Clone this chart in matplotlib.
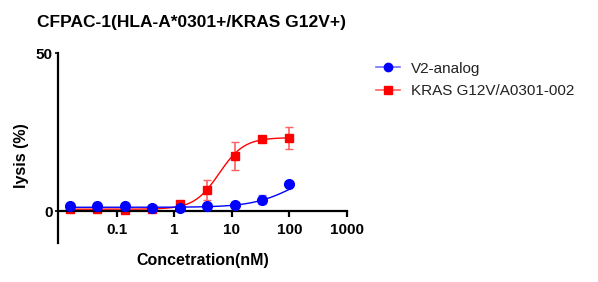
import numpy as np
import matplotlib.pyplot as plt

plt.rcParams['font.family'] = ['Liberation Sans', 'DejaVu Sans']

# 3-fold dilution series (nM)
conc = [0.01524, 0.04572, 0.1372, 0.4115, 1.235, 3.704, 11.11, 33.33, 100.0]

kras = [0.9, 0.7, 0.5, 0.7, 2.4, 6.7, 17.5, 23.0, 23.1]
kras_err = [0.3, 0.3, 0.3, 0.3, 0.4, 3.2, 4.5, 0.6, 3.5]
v2 = [1.7, 1.7, 1.6, 1.1, 1.1, 1.8, 2.1, 3.7, 8.5]
v2_err = [0.3, 0.3, 0.3, 0.3, 0.3, 0.3, 0.4, 1.5, 0.5]

# 4PL fit parameters (bottom, top, ec50, hill)
kras_fit = (0.7, 23.3, 6.0, 2.0)
v2_fit = (1.3, 14.0, 120.0, 1.2)

xt = [0.1, 1, 10, 100, 1000]
xtl = ['0.1', '1', '10', '100', '1000']


def fourpl(x, b, t, ec, h):
    return b + (t - b) / (1 + (ec / x) ** h)


fig = plt.figure(figsize=(5.98, 2.82), dpi=100)
ax = fig.add_axes([0.097, 0.138, 0.483, 0.674])

xx = np.logspace(np.log10(conc[0]), np.log10(conc[-1]), 300)

ax.plot(xx, fourpl(xx, *v2_fit), color='#0000ff', lw=1.0, zorder=3)
ax.errorbar(conc, v2, yerr=v2_err, fmt='o', color='#0000ff', ecolor='#6f6fff',
            ms=7, capsize=3, elinewidth=1.2, zorder=4)
ax.plot(xx, fourpl(xx, *kras_fit), color='#ff0000', lw=1.0, zorder=1)
ax.errorbar(conc, kras, yerr=kras_err, fmt='s', color='#ff0000', ecolor='#ff6060',
            ms=6, capsize=3, elinewidth=1.2, zorder=2)

ax.set_xscale('log')
ax.set_xlim(0.0094, 1000)
ax.set_ylim(-10, 50)
ax.set_xticks(xt)
ax.set_xticklabels(xtl)
ax.minorticks_off()
ax.set_yticks([0, 50])

for s in ['top', 'right']:
    ax.spines[s].set_visible(False)
ax.spines['bottom'].set_position(('data', 0))
ax.spines['bottom'].set_linewidth(1.6)
ax.spines['left'].set_linewidth(1.6)
ax.tick_params(axis='x', length=4, width=1.6, labelsize=11, pad=4)
ax.tick_params(axis='y', length=2, width=1.2, labelsize=11, pad=2)
for lbl in ax.get_xticklabels() + ax.get_yticklabels():
    lbl.set_fontweight('bold')

ax.set_xlabel('Concetration(nM)', fontsize=11.5, fontweight='bold')
ax.set_ylabel('lysis (%)', fontsize=11.5, fontweight='bold')
ax.xaxis.set_label_coords(0.5, -0.05)
ax.yaxis.set_label_coords(-0.10, 0.46)

fig.text(0.062, 0.905, 'CFPAC-1(HLA-A*0301+/KRAS G12V+)', fontsize=12.5,
         fontweight='bold')

h1 = plt.Line2D([], [], color='#6f6fff', marker='o', mfc='#0000ff', mec='#0000ff', ms=6, lw=1.2)
h2 = plt.Line2D([], [], color='#ff6060', marker='s', mfc='#ff0000', mec='#ff0000', ms=6, lw=1.2)
fig.legend([h1, h2], ['V2-analog', 'KRAS G12V/A0301-002'], loc='upper left',
           bbox_to_anchor=(0.605, 0.83), frameon=False, fontsize=11,
           handlelength=1.6, handletextpad=0.7, labelspacing=0.55, labelcolor='#222222')

fig.savefig('out.png', dpi=100)
